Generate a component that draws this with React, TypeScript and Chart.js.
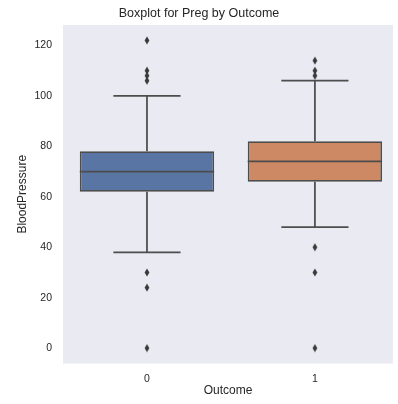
import React, { useEffect, useRef } from "react";
import { Chart, registerables } from "chart.js";

Chart.register(...registerables);

// Outcome groups and their BloodPressure box statistics
const categories = ["0", "1"];
const lowerWhisker = [38, 48];
const q1 = [62, 66];
const medians = [70, 74];
const q3 = [78, 82];
const upperWhisker = [100, 106];
const outliersOutcome0 = [122, 110, 108, 106, 30, 24, 0];
const outliersOutcome1 = [114, 110, 108, 40, 30, 0];
const yTickValues = [0, 20, 40, 60, 80, 100, 120];

const boxColors = ["#5875a4", "#cc8963"];
const lineGray = "#4d4d4d";
const FONT = "'Liberation Sans', Arial, Helvetica, sans-serif";

// thin diamond marker used for outliers
function makeDiamond(): HTMLCanvasElement {
  const c = document.createElement("canvas");
  c.width = 6;
  c.height = 9;
  const g = c.getContext("2d")!;
  g.fillStyle = "#3a3a3a";
  g.beginPath();
  g.moveTo(3, 0.5);
  g.lineTo(5.4, 4.5);
  g.lineTo(3, 8.5);
  g.lineTo(0.6, 4.5);
  g.closePath();
  g.fill();
  return c;
}

const backgroundPlugin = {
  id: "panelBackground",
  beforeDraw(chart: any) {
    const { ctx, chartArea, width, height } = chart;
    ctx.save();
    ctx.fillStyle = "#ffffff";
    ctx.fillRect(0, 0, width, height);
    ctx.fillStyle = "#eaeaf2";
    ctx.fillRect(chartArea.left, chartArea.top, chartArea.right - chartArea.left, chartArea.bottom - chartArea.top);
    ctx.restore();
  },
};

// whiskers, caps and median lines
const whiskerPlugin = {
  id: "whiskers",
  afterDatasetsDraw(chart: any) {
    const { ctx } = chart;
    const xs = chart.scales.x;
    const ys = chart.scales.y;
    ctx.save();
    ctx.strokeStyle = lineGray;
    ctx.lineWidth = 1.75;
    ctx.lineCap = "butt";
    categories.forEach((_, i) => {
      const cx = xs.getPixelForValue(i);
      const capL = xs.getPixelForValue(i - 0.2);
      const capR = xs.getPixelForValue(i + 0.2);
      const boxL = xs.getPixelForValue(i - 0.4);
      const boxR = xs.getPixelForValue(i + 0.4);
      ctx.beginPath();
      ctx.moveTo(cx, ys.getPixelForValue(q3[i]));
      ctx.lineTo(cx, ys.getPixelForValue(upperWhisker[i]));
      ctx.moveTo(cx, ys.getPixelForValue(q1[i]));
      ctx.lineTo(cx, ys.getPixelForValue(lowerWhisker[i]));
      ctx.moveTo(capL, ys.getPixelForValue(upperWhisker[i]));
      ctx.lineTo(capR, ys.getPixelForValue(upperWhisker[i]));
      ctx.moveTo(capL, ys.getPixelForValue(lowerWhisker[i]));
      ctx.lineTo(capR, ys.getPixelForValue(lowerWhisker[i]));
      ctx.moveTo(boxL, ys.getPixelForValue(medians[i]));
      ctx.lineTo(boxR, ys.getPixelForValue(medians[i]));
      ctx.stroke();
    });
    ctx.restore();
  },
};

export default function App() {
  const canvasRef = useRef<HTMLCanvasElement | null>(null);

  useEffect(() => {
    if (!canvasRef.current) return;
    const diamond = makeDiamond();
    const outlierPoints = [
      ...outliersOutcome0.map((v) => ({ x: 0, y: v })),
      ...outliersOutcome1.map((v) => ({ x: 1, y: v })),
    ];
    const chart = new Chart(canvasRef.current, {
      type: "bar",
      data: {
        datasets: [
          {
            type: "bar",
            data: categories.map((_, i) => ({ x: i, y: [q1[i], q3[i]] })) as any,
            backgroundColor: boxColors,
            borderColor: lineGray,
            borderWidth: 1.75,
            borderSkipped: false,
            barPercentage: 1,
            categoryPercentage: 0.8,
          },
          {
            type: "scatter",
            data: outlierPoints as any,
            pointStyle: diamond as any,
            pointRadius: 4,
          } as any,
        ],
      },
      options: {
        animation: false,
        responsive: false,
        devicePixelRatio: 1,
        layout: { padding: 0 },
        plugins: {
          legend: { display: false },
          tooltip: { enabled: false },
          title: {
            display: true,
            text: "Boxplot for Preg by Outcome",
            color: "#262626",
            font: { family: FONT, size: 12.5, weight: "normal" },
            padding: { top: 6.5, bottom: 3.5 },
          },
        },
        scales: {
          x: {
            type: "linear",
            min: -0.5,
            max: 1.465,
            offset: false,
            grid: { display: false, drawTicks: false, offset: false },
            border: { display: false },
            afterBuildTicks: (scale: any) => {
              scale.ticks = categories.map((_, i) => ({ value: i }));
            },
            afterFit: (scale: any) => {
              scale.height = 40.5;
            },
            ticks: {
              padding: 9,
              color: "#262626",
              font: { family: FONT, size: 10.5 },
              callback: (v: any) => categories[v] ?? "",
            },
            title: {
              display: true,
              text: "Outcome",
              color: "#262626",
              font: { family: FONT, size: 12 },
              padding: { top: 0, bottom: 5.8 },
            },
          },
          y: {
            type: "linear",
            min: -6.1,
            max: 128.1,
            grid: { display: false, drawTicks: false },
            border: { display: false },
            afterBuildTicks: (scale: any) => {
              scale.ticks = yTickValues.map((v) => ({ value: v }));
            },
            afterFit: (scale: any) => {
              scale.width = 63;
            },
            ticks: {
              padding: 11,
              color: "#262626",
              font: { family: FONT, size: 10.5 },
            },
            title: {
              display: true,
              text: "BloodPressure",
              color: "#262626",
              font: { family: FONT, size: 12 },
              padding: { top: 15.8, bottom: 0 },
            },
          },
        },
      },
      plugins: [backgroundPlugin, whiskerPlugin],
    } as any);
    return () => chart.destroy();
  }, []);

  return (
    <div style={{ position: "fixed", left: 0, top: 0, width: 398, height: 404, background: "#ffffff" }}>
      <canvas ref={canvasRef} width={398} height={404} />
    </div>
  );
}
